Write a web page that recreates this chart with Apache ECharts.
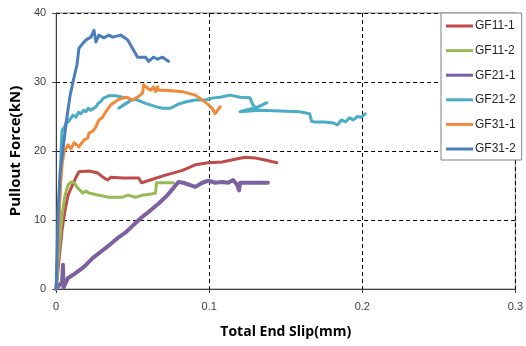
<!DOCTYPE html>
<html>
<head>
<meta charset="utf-8">
<script src="https://cdn.jsdelivr.net/npm/echarts@6/dist/echarts.min.js"></script>
<style>
  html, body { margin: 0; padding: 0; background: #fff; }
  #chart { width: 526px; height: 346px; }
</style>
</head>
<body>
<div id="chart"></div>
<script>
// Pullout force vs. total end slip for six GFRP specimens
const seriesNames = ['GF11-1', 'GF11-2', 'GF21-1', 'GF21-2', 'GF31-1', 'GF31-2'];
const seriesColors = ['#BE4B48', '#98B954', '#7D60A0', '#4BACC6', '#F08A3A', '#4A7EBB'];

const xTicks = [0, 0.1, 0.2, 0.3];
const yTicks = [0, 10, 20, 30, 40];

// [slip (mm), force (kN)]
const gf11_1 = [[0,0],[0.0019,4.2],[0.0039,8.6],[0.0058,11.4],[0.0078,13.6],[0.0097,14.6],[0.013,16.2],[0.0149,17.0],[0.0214,17.1],[0.0273,16.8],[0.0312,16.1],[0.0338,15.8],[0.0357,16.2],[0.0435,16.1],[0.0539,16.1],[0.0558,15.4],[0.0571,15.5],[0.063,15.9],[0.0714,16.5],[0.0825,17.2],[0.0909,18.0],[0.0994,18.3],[0.1084,18.4],[0.1169,18.8],[0.1234,19.1],[0.1299,19.0],[0.1364,18.7],[0.1442,18.3]];

const gf11_2 = [[0,0],[0.0019,5.7],[0.0039,10.7],[0.0058,13.6],[0.0078,15.1],[0.0097,15.5],[0.0117,15.4],[0.0143,14.6],[0.0175,13.9],[0.0195,14.2],[0.0214,13.9],[0.0279,13.6],[0.0344,13.3],[0.0435,13.3],[0.0468,13.6],[0.0519,13.3],[0.0565,13.6],[0.063,13.8],[0.0649,13.9],[0.0656,15.4],[0.0714,15.4],[0.0766,15.4]];

const gf21_1 = [[0,0],[0.0013,0.1],[0.0039,1.0],[0.0045,3.5],[0.0048,0.2],[0.0078,1.6],[0.012,2.2],[0.0182,3.2],[0.024,4.5],[0.0292,5.4],[0.035,6.4],[0.0403,7.4],[0.0455,8.2],[0.0506,9.3],[0.056,10.4],[0.0617,11.4],[0.067,12.4],[0.0727,13.6],[0.0799,15.5],[0.0831,15.4],[0.0909,14.8],[0.0955,15.4],[0.0994,15.7],[0.1039,15.4],[0.1084,15.5],[0.1123,15.4],[0.1156,15.8],[0.1182,15.1],[0.1195,14.3],[0.1202,15.4],[0.1214,15.5],[0.1299,15.4],[0.1383,15.4]];

const gf21_2 = [[0,0],[0.0013,7.1],[0.0026,14.3],[0.0032,20.1],[0.0039,23.0],[0.0058,23.6],[0.0071,24.6],[0.0078,24.2],[0.0097,24.8],[0.011,25.2],[0.013,24.9],[0.0145,25.6],[0.0162,25.4],[0.018,25.9],[0.0195,25.7],[0.021,26.2],[0.0227,25.9],[0.026,26.4],[0.0275,26.9],[0.0292,27.2],[0.0312,27.7],[0.0344,28.0],[0.039,28.0],[0.0435,27.8],[0.0474,27.7],[0.0487,27.3],[0.0409,26.2],[0.0448,26.8],[0.0494,27.4],[0.0519,27.5],[0.0584,26.9],[0.0656,26.4],[0.0695,26.2],[0.0747,26.2],[0.0799,26.8],[0.0844,27.1],[0.0909,27.4],[0.0974,27.4],[0.1026,27.7],[0.1071,27.8],[0.1136,28.1],[0.1201,27.8],[0.1266,27.7],[0.1286,26.7],[0.1305,26.2],[0.1377,27.0],[0.1318,26.4],[0.1201,25.7],[0.1331,25.9],[0.1461,25.8],[0.1591,25.7],[0.1656,25.4],[0.1669,24.3],[0.1688,24.2],[0.1753,24.2],[0.1805,24.1],[0.1838,23.8],[0.1864,24.5],[0.189,24.2],[0.1916,24.8],[0.1942,24.5],[0.1968,25.0],[0.1994,24.9],[0.2019,25.4]];

const gf31_1 = [[0,0],[0.0013,7.1],[0.0026,14.3],[0.0039,18.0],[0.0052,19.9],[0.0071,20.6],[0.0078,20.9],[0.0097,20.3],[0.0117,21.2],[0.0149,20.6],[0.0182,21.6],[0.0208,21.9],[0.0214,22.6],[0.024,22.9],[0.026,23.5],[0.0279,24.5],[0.030,24.8],[0.0325,25.7],[0.0357,26.7],[0.0403,27.4],[0.0455,27.8],[0.05,27.4],[0.0532,27.8],[0.0565,28.4],[0.0571,29.6],[0.0597,29.1],[0.0617,28.8],[0.0636,29.3],[0.0649,28.6],[0.0662,29.3],[0.0669,28.8],[0.0714,28.8],[0.0825,28.6],[0.0909,28.1],[0.0974,27.1],[0.1019,26.2],[0.1039,25.4],[0.1071,26.4]];

const gf31_2 = [[0,0],[0.0006,5],[0.0013,11.4],[0.0026,17],[0.0052,21.6],[0.0071,25],[0.0091,28],[0.011,30],[0.0136,32.5],[0.0149,34.9],[0.0175,35.6],[0.0195,36.1],[0.0227,36.5],[0.0247,37.5],[0.026,35.8],[0.0279,36.8],[0.0312,36.4],[0.0344,36.8],[0.037,36.5],[0.0422,36.8],[0.0468,36.1],[0.0506,34.6],[0.0532,33.6],[0.0584,33.6],[0.0604,33.0],[0.0636,33.6],[0.0662,33.3],[0.0695,33.6],[0.0734,33.0]];

const seriesData = [gf11_1, gf11_2, gf21_1, gf21_2, gf31_1, gf31_2];
const lineWidths = [3, 3, 4, 3, 3, 3];

const chart = echarts.init(document.getElementById('chart'), null, { renderer: 'canvas' });

const gridLine = { show: true, lineStyle: { color: '#000', type: [4, 3], width: 1 } };
const labelFont = { color: '#404040', fontSize: 11, fontFamily: 'Liberation Sans, Arial, sans-serif' };

chart.setOption({
  animation: false,
  backgroundColor: '#fff',
  grid: {
    left: 55, top: 13, right: 9, bottom: 57,
    show: true, borderColor: '#868686', borderWidth: 1, backgroundColor: 'transparent'
  },
  xAxis: {
    type: 'value',
    min: xTicks[0], max: xTicks[xTicks.length - 1], interval: 0.1,
    name: 'Total End Slip(mm)',
    nameLocation: 'middle', nameGap: 36,
    nameTextStyle: { fontSize: 14, fontWeight: 'bold', color: '#000', fontFamily: 'Open Sans, sans-serif' },
    axisLine: { lineStyle: { color: '#404040', width: 1 } },
    axisTick: { show: true, length: 4, lineStyle: { color: '#404040' } },
    axisLabel: Object.assign({ margin: 12, formatter: v => String(v) }, labelFont),
    splitLine: gridLine
  },
  yAxis: {
    type: 'value',
    min: yTicks[0], max: yTicks[yTicks.length - 1], interval: 10,
    name: 'Pullout Force(kN)',
    nameLocation: 'middle', nameGap: 32,
    nameTextStyle: { fontSize: 15, fontWeight: 'bold', color: '#000', fontFamily: 'Open Sans, sans-serif' },
    axisLine: { show: true, lineStyle: { color: '#404040', width: 1 } },
    axisTick: { show: true, length: 4, lineStyle: { color: '#404040' } },
    axisLabel: Object.assign({ margin: 10 }, labelFont),
    splitLine: gridLine
  },
  legend: {
    orient: 'vertical',
    left: 441, top: 13,
    padding: [7, 6, 5, 5],
    itemGap: 12.6,
    itemWidth: 27, itemHeight: 3,
    icon: 'rect',
    backgroundColor: '#fff',
    borderColor: '#808080', borderWidth: 1,
    textStyle: { color: '#262626', fontSize: 12, fontFamily: 'Liberation Sans, Arial, sans-serif', padding: [0, 0, 0, -3] },
    data: seriesNames
  },
  series: seriesNames.map((name, i) => ({
    name,
    type: 'line',
    data: seriesData[i],
    showSymbol: false,
    symbol: 'none',
    smooth: false,
    color: seriesColors[i],
    lineStyle: { width: lineWidths[i], color: seriesColors[i], cap: 'round', join: 'round' },
    z: 2 + i
  }))
});
</script>
</body>
</html>
